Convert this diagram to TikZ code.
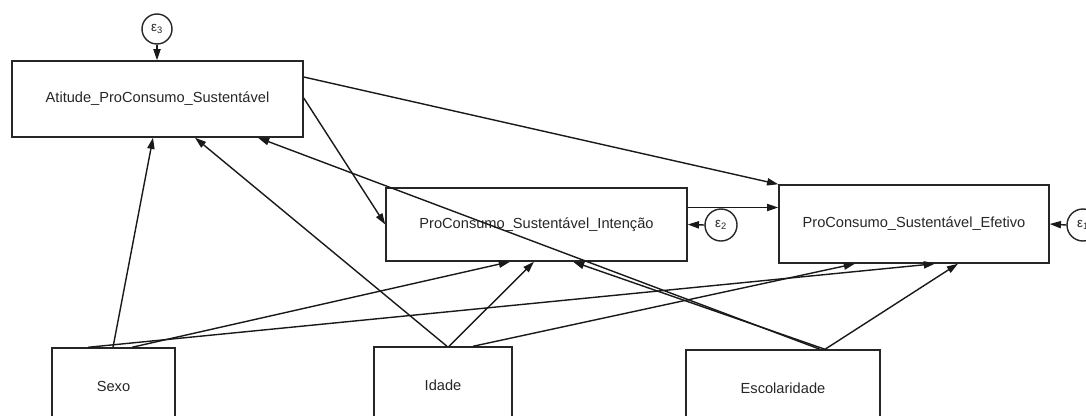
\documentclass[tikz,border=0pt]{standalone}
\usepackage{fontspec}
\setmainfont{Liberation Sans}
\usepackage{xcolor}
\usetikzlibrary{arrows.meta,calc}
\tikzset{
    %Define style for boxes
    var/.style={
        rectangle,
        draw=black!85, line width=1pt,
        align=center,
        text=black!85,
        font=\fontsize{10.4}{12}\selectfont,
    },
    err/.style={
        circle,
        draw=black!85, line width=1pt,
        inner sep=0pt,
        minimum size=0.8cm,
        text=black!85,
        font=\fontsize{9.5}{10}\selectfont,
    },
    arr/.style={
        draw=black!90,
        line width=1pt,
        -{Triangle[length=2.8mm,width=1.8mm]},
    },
}

\begin{document}
\begin{tikzpicture}[x=0.025cm,y=-0.025cm]
		\useasboundingbox (0,0) rectangle (1086,415);
		\clip (0,0) rectangle (1086,415);

		\node[var,minimum width=7.275cm,minimum height=1.9cm] (ATT) at (157.5,99) {Atitude\_ProConsumo\_Sustentável};
		\node[var,minimum width=7.525cm,minimum height=1.825cm] (INT) at (536.5,224.5) {ProConsumo\_Sustentável\_Intenção};
		\node[var,minimum width=6.75cm,minimum height=1.95cm] (EFE) at (914,224) {ProConsumo\_Sustentável\_Efetivo};
		\node[var,minimum width=3.075cm,minimum height=1.9cm] (SEX) at (113.5,386) {Sexo};
		\node[var,minimum width=3.45cm,minimum height=1.9cm] (IDA) at (443,385) {Idade};
		\node[var,minimum width=4.85cm,minimum height=1.9cm] (ESC) at (783,388) {Escolaridade};

		\node[err,minimum size=0.75cm] (E3) at (157,29) {ε\textsubscript{3}};
		\node[err] (E2) at (721,225) {ε\textsubscript{2}};
		\node[err] (E1) at (1083,225) {ε\textsubscript{1}};

		% errors
		\draw[arr] (E3.south) -- (E3.south |- ATT.north);
		\draw[arr] (E2.west) -- (INT.east);
		\draw[arr] (E1.west) -- (EFE.east);

		% attitude and intention
		\draw[arr] ($(ATT.east)+(0,-22)$) -- (EFE.north west);
		\draw[arr] ($(ATT.east)+(0,-1)$) -- (INT.west);
		\draw[arr] ($(INT.east)+(0,-17)$) coordinate (IE) -- (IE -| EFE.west);

		% exogenous
		\draw[arr] ($(SEX.north)+(-0.5,0)$) -- ($(ATT.south)+(-4.5,0)$);
		\draw[arr] ($(SEX.north)+(18.5,0)$) -- ($(INT.south)+(-26.5,0)$);
		\draw[arr] ($(SEX.north)+(-25.5,0)$) -- ($(EFE.south)+(21,0)$);
		\draw[arr] ($(IDA.north)+(4,0)$) -- ($(ATT.south)+(37.5,0)$);
		\draw[arr] ($(IDA.north)+(6,0)$) -- ($(INT.south)+(-2.5,0)$);
		\draw[arr] ($(IDA.north)+(30,0)$) -- ($(EFE.south)+(-59,0)$);
		\draw[arr] ($(ESC.north)+(37,0)$) -- ($(ATT.south)+(100.5,0)$);
		\draw[arr] ($(ESC.north)+(42,0)$) -- ($(INT.south)+(36.5,0)$);
		\draw[arr] ($(ESC.north)+(42,0)$) -- ($(EFE.south)+(44,0)$);
	\end{tikzpicture}
\end{document}
